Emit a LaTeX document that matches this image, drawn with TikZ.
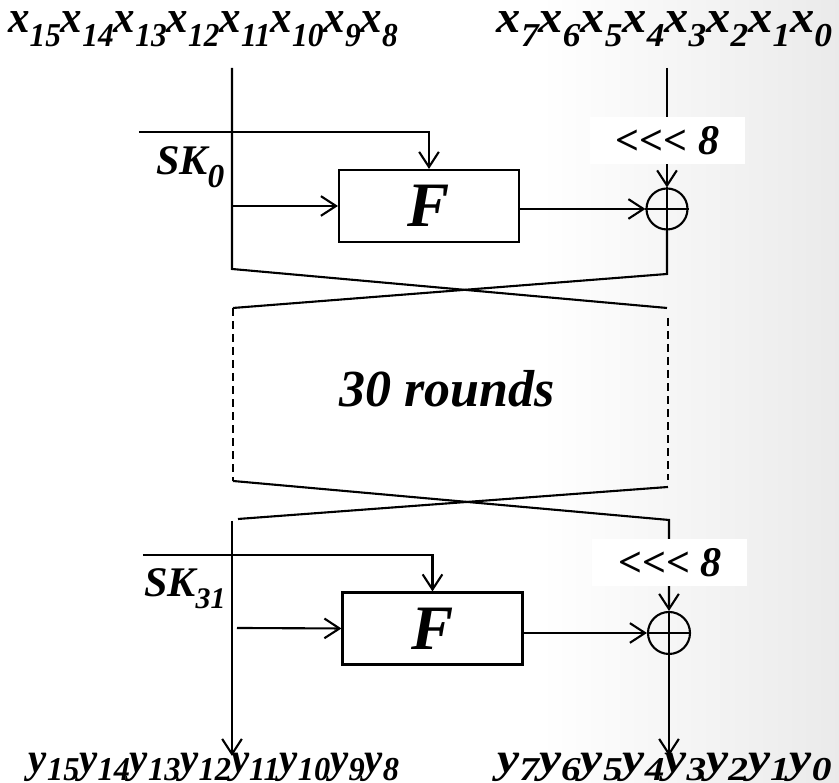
\documentclass[tikz,border=0pt]{standalone}
\usepackage{fontspec}
\setmainfont{Liberation Serif}
\usetikzlibrary{arrows.meta, calc}

% lowered index for the bit names
\newcommand{\lo}[2][0.3em]{\raisebox{-#1}{\fontsize{9.5}{10}\selectfont #2}}

\begin{document}
\begin{tikzpicture}[
  line width=0.6pt,
  >={Straight Barb[length=4.3pt,width=5.6pt]},
  bi/.style={font=\bfseries\itshape\fontsize{13}{15}\selectfont, inner sep=0pt},
  fbox/.style={draw, minimum width=1.8cm, minimum height=0.72cm, inner sep=0pt,
    font=\bfseries\itshape\fontsize{18}{20}\selectfont},
  xor/.style={draw, circle, minimum size=0.41cm, inner sep=0pt},
  rot/.style={fill=white, minimum width=1.55cm, minimum height=0.47cm, inner sep=0pt,
    font=\bfseries\itshape\fontsize{12}{13}\selectfont}
]

\useasboundingbox (0,0) rectangle (8.39,7.83);
% grey shade at the right edge
\shade[left color=white, right color=black!12] (5.4,0) rectangle (9.8,7.83);

% input and output words
\node[bi, anchor=base] (xl) at (2.03,7.50) {\scalebox{0.94}[1]{x\lo{15}x\lo{14}x\lo{13}x\lo{12}x\lo{11}x\lo{10}x\lo{9}x\lo{8}}};
\node[bi, anchor=base] (xr) at (6.645,7.50) {\scalebox{1.06}[1]{x\lo{7}x\lo{6}x\lo{5}x\lo{4}x\lo{3}x\lo{2}x\lo{1}x\lo{0}}};
\node[bi, font=\bfseries\itshape\fontsize{12}{14}\selectfont, anchor=base] (yl) at (2.14,0.105) {\scalebox{0.97}[1]{y\lo[0.18em]{15}y\lo[0.18em]{14}y\lo[0.18em]{13}y\lo[0.18em]{12}y\lo[0.18em]{11}y\lo[0.18em]{10}y\lo[0.18em]{9}y\lo[0.18em]{8}}};
\node[bi, font=\bfseries\itshape\fontsize{12}{14}\selectfont, anchor=base] (yr) at (6.645,0.105) {\scalebox{1.18}[1]{y\lo[0.18em]{7}y\lo[0.18em]{6}y\lo[0.18em]{5}y\lo[0.18em]{4}y\lo[0.18em]{3}y\lo[0.18em]{2}y\lo[0.18em]{1}y\lo[0.18em]{0}}};

% first round
\coordinate (a0) at (2.32,7.15);
\coordinate (b0) at (6.67,7.15);
\coordinate (a1) at (2.32,5.14);
\coordinate (b1) at (6.67,5.09);
\coordinate (a2) at (2.33,4.75);
\coordinate (b2) at (6.67,4.75);
\coordinate (k0) at (1.39,6.51);
\coordinate (t0) at (2.32,5.77);

\node[fbox] (F1) at (4.29,5.77) {F};
\node[xor] (X1) at (6.67,5.74) {};

\draw[->] (k0) -| (F1.north);
\draw[->] (t0) -- (F1.west);
\draw[->] (F1.east |- X1) -- (X1.west);
\draw[->] (b0) -- (X1.north);
\draw (X1.north) -- (X1.south) (X1.west) -- (X1.east);
\draw (a0) -- (a1) -- (b2);
\draw (X1.south) -- (b1) -- (a2);

\node[rot] (r1) at (6.675,6.425) {<\kern0pt<\kern0pt< 8};
\node[bi, font=\bfseries\itshape\fontsize{12}{14}\selectfont, anchor=base west] (sk0) at (1.55,6.08) {SK\lo[0.3em]{0}};

% the rounds in between
\coordinate (a3) at (2.33,3.02);
\coordinate (b3) at (6.68,4.65);
\coordinate (b4) at (6.68,3.03);
\draw[dash pattern=on 2.3pt off 1.4pt] (a2) -- (a3);
\draw[dash pattern=on 2.3pt off 1.4pt] (b3) -- (b4);
\node[bi, font=\bfseries\itshape\fontsize{14.8}{16}\selectfont, anchor=base] (nr) at (4.47,3.76) {30 rounds};

% last round
\coordinate (b5) at (6.68,2.96);
\coordinate (a5) at (2.38,2.64);
\coordinate (b6) at (6.69,2.63);
\coordinate (a6) at (2.32,2.62);
\coordinate (a7) at (2.32,0.27);
\coordinate (b7) at (6.69,0.27);
\coordinate (k1) at (1.43,2.28);
\coordinate (t1) at (2.37,1.55);

\node[fbox] (F2) at (4.325,1.545) {F};
\node[xor, minimum size=0.42cm] (X2) at (6.69,1.50) {};

\draw (b5) -- (a5);
\draw[->] (a3) -- (b6) -- (X2.north);
\draw (X2.north) -- (X2.south) (X2.west) -- (X2.east);
\draw[->] (k1) -| (F2.north);
\draw[->] (t1) -- (F2.west);
\draw[->] (F2.east |- X2) -- (X2.west);
\draw[->] (a6) -- (a7);
\draw[->] (X2.south) -- (b7);

\node[rot] (r2) at (6.70,2.20) {<\kern0pt<\kern0pt< 8};
\node[bi, font=\bfseries\itshape\fontsize{12}{14}\selectfont, anchor=base west] (sk1) at (1.43,1.86) {SK\lo[0.28em]{\fontsize{8.5}{9}\selectfont 31}};

\end{tikzpicture}
\end{document}
